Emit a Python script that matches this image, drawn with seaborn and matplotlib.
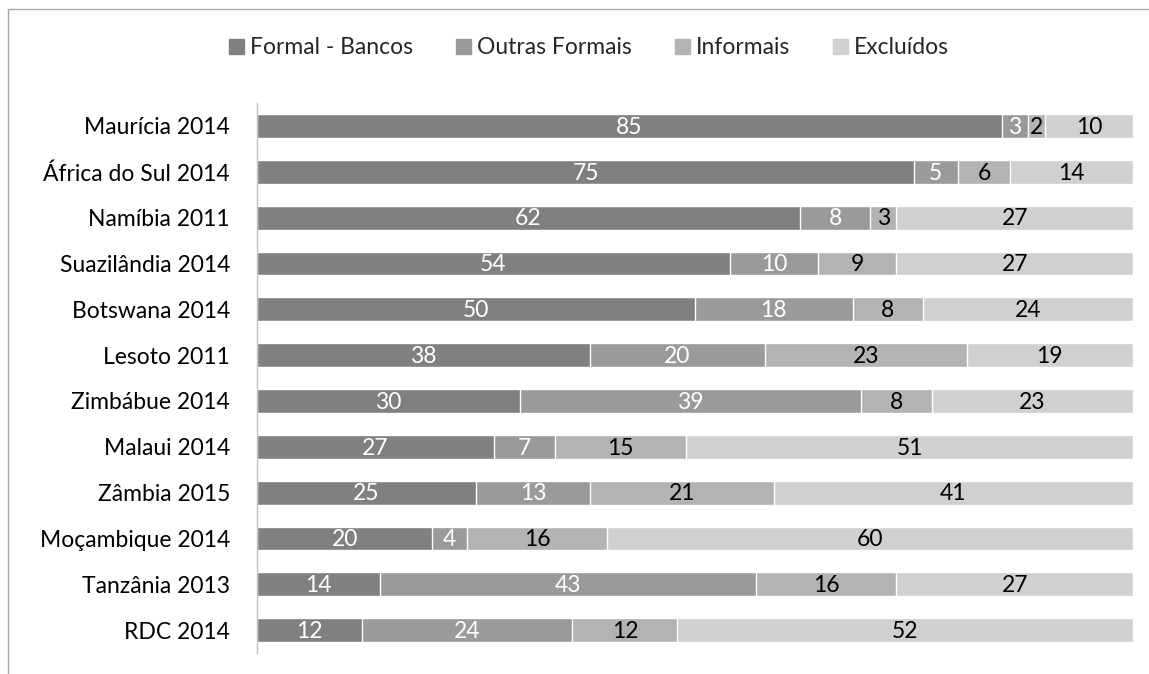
import matplotlib
matplotlib.use("Agg")
import matplotlib.pyplot as plt
import matplotlib.patches as mpatches
import numpy as np
import pandas as pd
import seaborn as sns

countries = ["Maurícia 2014", "África do Sul 2014", "Namíbia 2011", "Suazilândia 2014",
             "Botswana 2014", "Lesoto 2011", "Zimbábue 2014", "Malaui 2014",
             "Zâmbia 2015", "Moçambique 2014", "Tanzânia 2013", "RDC 2014"]
formal_bancos = [85, 75, 62, 54, 50, 38, 30, 27, 25, 20, 14, 12]
outras_formais = [3, 5, 8, 10, 18, 20, 39, 7, 13, 4, 43, 24]
informais = [2, 6, 3, 9, 8, 23, 8, 15, 21, 16, 16, 12]
excluidos = [10, 14, 27, 27, 24, 19, 23, 51, 41, 60, 27, 52]

series_names = ["Formal - Bancos", "Outras Formais", "Informais", "Excluídos"]
series_vals = [formal_bancos, outras_formais, informais, excluidos]
colors = ["#808080", "#9a9a9a", "#b3b3b3", "#d0d0d0"]
label_colors = ["white", "white", "black", "black"]

FS = 16.5

sns.set_theme(style="white")
plt.rcParams["font.family"] = ["Lato", "DejaVu Sans"]

fig = plt.figure(figsize=(11.49, 6.74), dpi=100)
ax = fig.add_axes([257 / 1149, 21 / 674, 876 / 1149, 550 / 674])

vals = np.array(series_vals, dtype=float)
cum = np.cumsum(vals, axis=0)

# Stacked bars: draw cumulative totals from the outermost segment inward
for i in range(len(series_names) - 1, -1, -1):
    df = pd.DataFrame({"pais": countries, "valor": cum[i]})
    sns.barplot(data=df, x="valor", y="pais", orient="h", color=colors[i],
                width=0.52, edgecolor="white", linewidth=1.0, saturation=1,
                ax=ax)

# Segment value labels
for i in range(len(series_names)):
    starts = cum[i] - vals[i]
    for j, v in enumerate(vals[i]):
        ax.text(starts[j] + v / 2, j + 0.03, f"{int(v)}", ha="center", va="center",
                color=label_colors[i], fontsize=FS)

ax.set_xlim(0, 100)
ax.set_ylim(len(countries) - 0.5, -0.5)
ax.set_xlabel("")
ax.set_ylabel("")
ax.set_xticks([])
ax.tick_params(axis="y", length=0, pad=19.5, labelsize=FS, labelcolor="black")
for s in ["top", "right", "bottom"]:
    ax.spines[s].set_visible(False)
ax.spines["left"].set_color("#bfbfbf")
ax.spines["left"].set_linewidth(1)

handles = [mpatches.Patch(color=c, label=n) for c, n in zip(colors, series_names)]
fig.legend(handles=handles, loc="center", bbox_to_anchor=(589 / 1149, 1 - 48 / 674),
           ncol=4, frameon=False, fontsize=FS, handlelength=0.65, handleheight=0.65,
           handletextpad=0.25, columnspacing=1.9, borderpad=0)

# Chart frame
fig.patches.append(mpatches.Rectangle((8 / 1149, -0.01), 1.2, 1 - 9 / 674 + 0.01,
                                      transform=fig.transFigure, fill=False,
                                      edgecolor="#a6a6a6", linewidth=1))

fig.savefig("out.png", dpi=100, facecolor="white")
